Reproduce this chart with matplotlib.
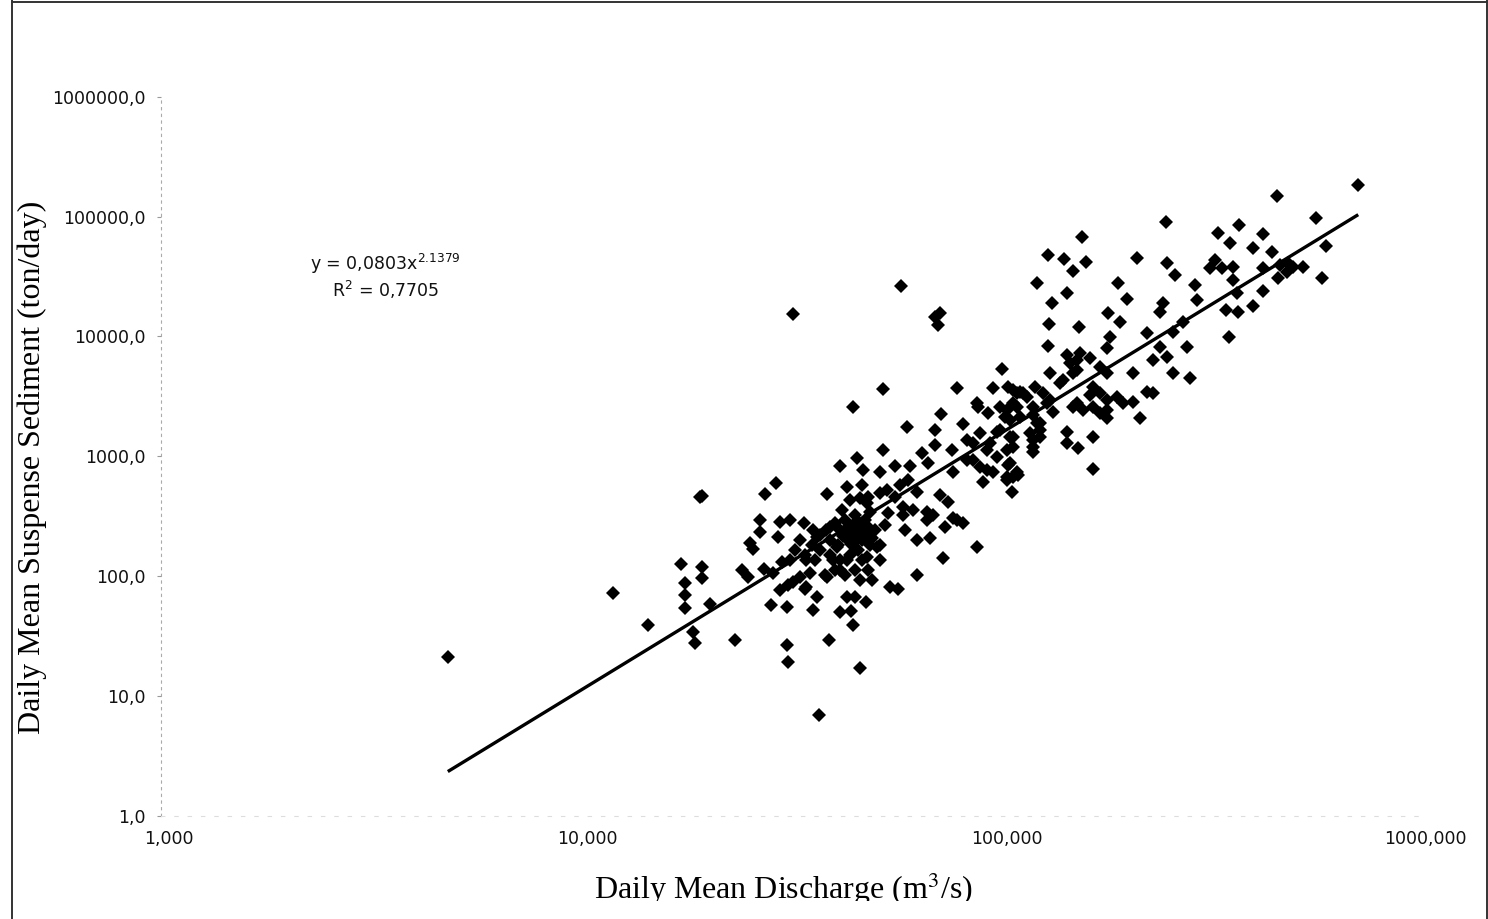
import numpy as np
import matplotlib
matplotlib.use("Agg")
import matplotlib.pyplot as plt
from matplotlib.lines import Line2D
from matplotlib.patches import Rectangle
from matplotlib.ticker import FixedLocator, FixedFormatter, NullLocator
from matplotlib.transforms import ScaledTranslation

# daily mean discharge (m3/s) vs daily mean suspended sediment (ton/day)
q_low = [4.85, 12.0, 14.6, 17.5, 17.9, 17.9, 17.9, 19.6, 19.6, 19.6,
         19.4, 18.7, 18.9, 20.5, 23.5, 24.4, 25.3, 25.5, 25.9, 27.0,
         27.0, 27.7, 29.4, 27.5, 29.0, 28.7, 29.8, 30.1, 31.8, 30.4,
         30.1, 31.5, 32.4, 31.2, 31.2, 31.5, 34.3, 34.5, 34.8, 35.5,
         36.0, 36.1, 37.2, 32.4]
ss_low = [21.1, 72, 39, 126, 87, 70, 54, 120, 96, 469,
          455, 34.4, 27.6, 58.6, 29.4, 113, 99, 188, 168, 294,
          235, 482, 602, 116, 106, 57.5, 214, 285, 294, 132,
          77, 84.5, 90, 55.7, 26.7, 19.4, 278, 79, 136, 106,
          243, 52, 7.0, 15300]

q_core = [45.0, 43.0, 46.7, 44.2, 41.9, 48.0, 45.5, 43.7, 47.2, 41.4,
          49.4, 42.3, 40.7, 38.7, 39.6, 50.7, 49.4, 46.2, 44.2, 41.9,
          47.2, 39.6, 37.5, 36.5, 52.2, 53.6, 37.5, 52.2, 48.8, 49.9,
          43.0, 45.5, 40.7, 38.5, 35.9, 34.5, 33.6, 32.7, 31.8, 36.8,
          39.6, 41.1, 33.6, 34.8, 36.8, 41.9, 43.4, 40.3, 38.9, 48.5,
          51.2, 47.2, 48.8, 59.3, 67.4, 79.5, 39.4, 46.7, 44.5, 45.0,
          48.3, 41.9, 43.0, 45.5, 47.9, 44.0, 46.0, 42.5, 48.5, 44.5,
          50.0, 46.5]
ss_core = [267, 294, 243, 221, 243, 294, 324, 200, 200, 182,
           182, 357, 278, 243, 200, 243, 343, 165, 150, 136,
           136, 150, 165, 136, 182, 267, 221, 136, 113, 93,
           102, 113, 113, 102, 182, 150, 200, 165, 136, 214,
           259, 176, 99, 82, 67.5, 113, 136, 136, 99, 145,
           176, 576, 460, 324, 294, 294, 29.4, 17.2, 51, 39,
           61, 50, 240, 250, 230, 260, 205, 215, 260, 185,
           210, 280]

q_mid = [38.9, 45.0, 53.1, 60.4, 53.1, 41.9, 45.9, 47.6, 52.2, 56.6,
         61.5, 65.6, 68.0, 70.5, 70.5, 72.8, 77.3, 82.4, 79.7, 89.5,
         94.6, 101.8, 97.2, 105.5, 112.5, 122.2, 131.5, 132.7, 145.5, 150.8,
         145.5, 155.0, 150.8, 84.0, 90.3, 95.4, 100.8, 108.5, 121.1, 125.6,
         121.1, 105.5, 111.5, 104.6, 107.5, 92.0, 93.7, 87.1, 78.0, 103.6,
         110.5, 121.1, 130.3, 135.1, 123.4, 140.2, 153.7, 43.4, 44.2, 46.7,
         48.5, 52.2, 54.1, 58.2, 60.9, 63.8, 56.6, 59.3, 54.6, 62.6,
         67.4, 69.9, 72.5, 75.9, 78.0, 82.4, 74.5, 68.6, 63.8, 59.8,
         88.7, 73.8, 63.8, 55.1, 57.7, 46.7, 43.4, 45.5,
         88.7, 110.5, 100.8, 106.5, 99.0, 87.1, 93.7, 99.0, 104.6, 90.3,
         97.2, 84.0, 108.5, 58.5, 72.5, 70.5, 71.8]
ss_mid = [482, 2590, 3620, 1770, 1140, 830, 962, 769, 744, 830,
          830, 1070, 885, 1240, 1660, 2250, 1140, 1850, 3690, 2590,
          2280, 5320, 3690, 3810, 3460, 3810, 8320, 4980, 7000, 4920,
          1600, 1170, 2590, 1370, 1555, 1280, 1660, 1460, 1370, 1660,
          1090, 846, 698, 634, 507, 614, 769, 931, 744, 2140,
          2590, 2210, 2770, 2360, 1890, 4060, 6360, 558, 432, 446,
          406, 491, 524, 576, 634, 507, 460, 380, 335, 357,
          345, 324, 475, 418, 304, 276, 259, 207, 200, 243,
          176, 141, 102, 82, 79, 93, 67.5, 67.5,
          2770, 3350, 2590, 2010, 1600, 1280, 1130, 992, 1130, 819,
          744, 931, 676, 26300, 15600, 14600, 12400]

q_high = [157.9, 131.5, 143.3, 161.7, 150.8, 213.7, 252.0, 263.7, 294.4, 297.2,
          123.8, 145.5, 134.0, 193.2, 202.3, 247.4, 242.9, 182.9, 195.0, 132.2,
          155.9, 184.6, 181.2, 225.8, 261.3, 276.1, 281.3, 242.9, 234.1, 252.0,
          156.5, 165.3, 148.1, 142.8, 153.7, 174.7, 181.2, 209.8, 261.3, 286.4,
          225.8, 234.1, 209.8, 217.7, 168.4, 174.7, 181.2, 191.5, 198.6, 153.7,
          159.4, 168.4, 174.7, 181.2, 127.9, 132.7, 121.1, 114.6, 108.5, 112.5,
          125.6, 118.9, 125.6, 106.5, 108.5, 121.1, 145.5, 168.4, 168.4, 106.5,
          104.6, 116.8, 165.3, 181.2, 104.6, 108.5, 110.5, 251.1]
ss_high = [67100, 47700, 43900, 42000, 35300, 45300, 40700, 32500, 26800, 20100,
           27700, 22900, 19100, 27700, 20500, 18900, 16100, 15800, 13300, 12700,
           11900, 9940, 7960, 10600, 10900, 13300, 8210, 8210, 6360, 6770,
           7230, 6570, 5970, 4330, 5250, 5590, 4920, 4920, 4920, 4470,
           3460, 3350, 2850, 2080, 3810, 3350, 2950, 3140, 2770, 2770,
           2430, 2590, 2280, 2080, 3350, 2950, 2590, 3350, 3570, 2140,
           1890, 1555, 1460, 1460, 1200, 1200, 1280, 1460, 779, 874,
           676, 3140, 3250, 2430, 2430, 2770, 744, 89400]

q_top = [722, 463, 572, 375, 335, 357, 428, 404, 449, 604,
         329, 320, 341, 363, 363, 428, 470, 492, 505, 534,
         487, 465, 591, 370, 427, 404, 350, 373, 355]
ss_top = [183000, 148000, 97700, 85000, 72400, 59800, 71000, 54300, 50900, 57100,
          43400, 37000, 37000, 38100, 29500, 37000, 39400, 40700, 38100, 38100,
          34700, 30500, 30500, 22900, 24100, 17900, 16600, 16100, 9940]

# power trend line y = a * x^b
coef_a = 0.0803
coef_b = 2.1379
r_squared = 0.7705

x_ticks = [1, 10, 100, 1000]
x_labels = ["1,000", "10,000", "100,000", "1000,000"]
y_ticks = [1, 10, 100, 1000, 10000, 100000, 1000000]
y_labels = ["1,0", "10,0", "100,0", "1000,0", "10000,0", "100000,0", "1000000,0"]

discharge = np.array(q_low + q_core + q_mid + q_high + q_top)
sediment = np.array(ss_low + ss_core + ss_mid + ss_high + ss_top)

W, H = 1488, 919
fig = plt.figure(figsize=(W / 100, H / 100), dpi=100)
ax = fig.add_axes([160.5 / W, 103 / H, 1257 / W, 719.3 / H])
ax.set_xscale("log")
ax.set_yscale("log")
ax.set_xlim(1, 1000)
ax.set_ylim(1, 1e6)

ax.plot(discharge, sediment, "D", color="black", ms=7.2, mew=0, zorder=3)

xfit = np.geomspace(discharge.min(), discharge.max(), 200)
ax.plot(xfit, coef_a * xfit ** coef_b, color="black", lw=2.4,
        solid_capstyle="butt", zorder=4)

ax.xaxis.set_major_locator(FixedLocator(x_ticks))
ax.xaxis.set_major_formatter(FixedFormatter(x_labels))
ax.yaxis.set_major_locator(FixedLocator(y_ticks))
ax.yaxis.set_major_formatter(FixedFormatter(y_labels))
ax.xaxis.set_minor_locator(NullLocator())
ax.yaxis.set_minor_locator(NullLocator())
ax.tick_params(axis="x", length=0, pad=10, labelsize=12.5, labelcolor="#111111")
ax.tick_params(axis="y", length=3, width=0.8, color="#999999", pad=7.5,
               labelsize=12.5, labelcolor="#111111")
for lbl in ax.get_xticklabels():
    lbl.set_transform(lbl.get_transform() + ScaledTranslation(0.08, 0, fig.dpi_scale_trans))

for side in ["top", "right"]:
    ax.spines[side].set_visible(False)
ax.spines["left"].set_color("#aaaaaa")
ax.spines["left"].set_linewidth(0.8)
ax.spines["left"].set_linestyle((0, (2, 4)))
ax.spines["bottom"].set_color("#dddddd")
ax.spines["bottom"].set_linewidth(0.8)
ax.spines["bottom"].set_linestyle((0, (3, 9)))

eq = "y = " + f"{coef_a:.4f}".replace(".", ",") + "x$^{" + f"{coef_b:.4f}" + "}$"
r2 = "R$^2$ = " + f"{r_squared:.4f}".replace(".", ",")
fig.text(385 / W, 1 - 264 / H, eq, ha="center", va="center", fontsize=12.5,
         color="#111111", math_fontfamily="dejavusans")
fig.text(386 / W, 1 - 290 / H, r2, ha="center", va="center", fontsize=12.5,
         color="#111111", math_fontfamily="dejavusans")

fig.text(32 / W, 1 - 467 / H, "Daily Mean Suspense Sediment (ton/day)",
         rotation=90, ha="center", va="center", fontsize=23,
         family="Liberation Serif")
fig.text(783 / W, 1 - 899 / H, r"Daily Mean Discharge (m$^{3}$/s)",
         ha="center", va="baseline", fontsize=23, family="Liberation Serif",
         math_fontfamily="stix")
# bottom of the sheet is cut off just under the x label
fig.add_artist(Rectangle((520 / W, 0), 520 / W, 18 / H, transform=fig.transFigure,
                         facecolor="white", edgecolor="none", zorder=10))

# page frame
frame = dict(transform=fig.transFigure, color="#333333", lw=1.4)
fig.add_artist(Line2D([11.5 / W, 11.5 / W], [0, 1], **frame))
fig.add_artist(Line2D([11.5 / W, 1], [1 - 1.5 / H, 1 - 1.5 / H], **frame))
fig.add_artist(Line2D([1 - 1.5 / W, 1 - 1.5 / W], [0, 1], **frame))

fig.savefig("out.png", dpi=100, facecolor="white")
